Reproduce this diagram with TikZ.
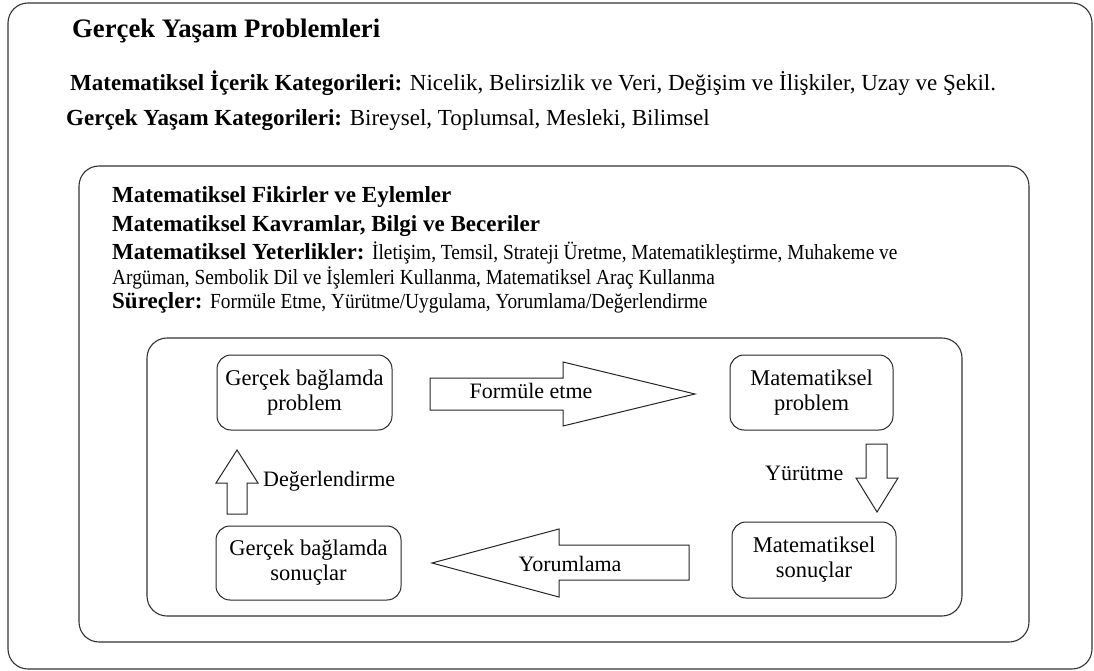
\documentclass[tikz,border=0pt]{standalone}
\usepackage{fontspec}
\setmainfont{Liberation Serif}
\newfontfamily\narrowserif[FakeStretch=0.9]{Liberation Serif}
\newcommand\narrowtext{\narrowserif\fontsize{21.5}{24}\selectfont}
\begin{document}
\begin{tikzpicture}[x=1pt,y=-1pt,
  frame/.style={draw=black!80, line width=1.1pt, rounded corners=20pt},
  box/.style={draw=black!85, line width=1pt, rounded corners=14pt, align=center,
    inner sep=0pt, font=\fontsize{22.5}{25}\selectfont},
  line/.style={inner sep=0pt, anchor=base west, font=\fontsize{23}{27}\selectfont},
  head/.style={inner sep=0pt, anchor=base west, font=\fontsize{26.7}{30}\selectfont\bfseries},
  lbl/.style={inner sep=0pt, font=\fontsize{22}{25}\selectfont},
  blockarrow/.style={draw=black!85, line width=1pt, fill=white, line join=miter}]
\useasboundingbox (0,0) rectangle (1094,671);

% nested frames
\draw[frame] (8,3) rectangle (1092,669);
\draw[frame] (79,166) rectangle (1029,642);
\draw[frame] (147,338) rectangle (962,616);

% outer frame texts
\node[head] (title) at (72,38) {Gerçek Yaşam Problemleri};
\node[line] (icerik) at (70,91) {\textbf{Matematiksel İçerik Kategorileri:} Nicelik, Belirsizlik ve Veri, Değişim ve İlişkiler, Uzay ve Şekil.};
\node[line] (yasam) at (66,126) {\textbf{Gerçek Yaşam Kategorileri:} Bireysel, Toplumsal, Mesleki, Bilimsel};

% middle frame texts
\node[line] (fikir) at (112,203) {\textbf{Matematiksel Fikirler ve Eylemler}};
\node[line] (kavram) at (112,231) {\textbf{Matematiksel Kavramlar, Bilgi ve Beceriler}};
\node[line] (yeter) at (112,259) {\textbf{Matematiksel Yeterlikler:} {\narrowtext İletişim, Temsil, Strateji Üretme, Matematikleştirme, Muhakeme ve}};
\node[line] (yeter2) at (112,284) {\narrowtext Argüman, Sembolik Dil ve İşlemleri Kullanma, Matematiksel Araç Kullanma};
\node[line] (surec) at (112,308) {\textbf{Süreçler:} {\narrowtext Formüle Etme, Yürütme/Uygulama, Yorumlama/Değerlendirme}};

% modelling cycle boxes
\node[box, minimum width=175pt, minimum height=75pt] (gp) at (304.5,392.5) {Gerçek bağlamda\\problem};
\node[box, minimum width=163pt, minimum height=75pt] (mp) at (811.5,392.5) {Matematiksel\\problem};
\node[box, minimum width=164pt, minimum height=76pt] (ms) at (814,560) {Matematiksel\\sonuçlar};
\node[box, minimum width=185pt, minimum height=74pt] (gs) at (308.5,563) {Gerçek bağlamda\\sonuçlar};

% block arrows of the cycle
\draw[blockarrow] (430,378) -- (563,378) -- (563,362) -- (695,394) -- (563,426) -- (563,410) -- (430,410) -- cycle;
\draw[blockarrow] (866,444) -- (887,444) -- (887,478) -- (898,478) -- (877,512) -- (856,478) -- (866,478) -- cycle;
\draw[blockarrow] (689,545) -- (559,545) -- (559,529) -- (432,563) -- (559,597) -- (559,580) -- (689,580) -- cycle;
\draw[blockarrow] (227,514) -- (227,483) -- (216,483) -- (237,450) -- (258,483) -- (247,483) -- (247,514) -- cycle;

% arrow labels
\node[lbl, anchor=base] (formule) at (531,398) {Formüle etme};
\node[lbl, anchor=base west] (yurutme) at (765,480) {Yürütme};
\node[lbl, anchor=base] (yorum) at (570,571) {Yorumlama};
\node[lbl, anchor=base west] (deger) at (263,486) {Değerlendirme};
\end{tikzpicture}
\end{document}
